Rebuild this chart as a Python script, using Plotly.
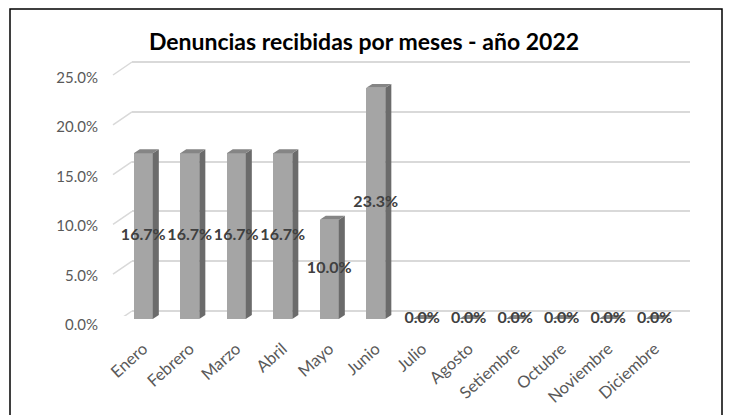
import plotly.graph_objects as go

# ---------------- data ----------------
months = ["Enero", "Febrero", "Marzo", "Abril", "Mayo", "Junio",
          "Julio", "Agosto", "Setiembre", "Octubre", "Noviembre", "Diciembre"]
shares = [0.167, 0.167, 0.167, 0.167, 0.100, 0.233, 0.0, 0.0, 0.0, 0.0, 0.0, 0.0]
y_ticks = [0.0, 0.05, 0.10, 0.15, 0.20, 0.25]
title_text = "Denuncias recibidas por meses - año 2022"

# ---------------- layout helpers ----------------
# page body has an 8px default margin; size the figure to the visible area
OFF = 8
W, H = 731 - OFF, 415 - OFF
def xd(px):
    return (px - OFF) / W
def yd(py):
    return (H - (py - OFF)) / H

FONT = "Lato"
FRONT = "#A5A5A5"
SIDE = "#6B6B6B"
TOP = "#858585"

bar_w = 0.41          # bar front width in category units
ddx = 0.13            # 3D depth (category units)
ddy = 0.004           # 3D depth (value units)

rng_bar = [0.0, 0.26]
rng_grid = [-0.005, 0.26]

s_bar, s_grid, s_lab = 992.0, 996.0, 990.0
bar0, grid0, lab0 = 319.0, 311.0, 325.0

def dom(zero_px, scale, rng):
    bottom = zero_px - rng[0] * scale
    top = zero_px - rng[1] * scale
    return [yd(bottom), yd(top)]

fig = go.Figure()

# grid subplot (drawn first -> behind bars)
fig.add_trace(go.Scatter(x=[], y=[], xaxis="x", yaxis="y", showlegend=False))

idx = list(range(len(months)))

# front faces
fig.add_trace(go.Bar(x=idx, y=shares, width=bar_w, marker=dict(color=FRONT, line=dict(width=0)),
                     xaxis="x2", yaxis="y2", showlegend=False, hoverinfo="skip"))

# side faces
sx, sy = [], []
for i, v in zip(idx, shares):
    r = i + bar_w / 2
    sx += [r, r + ddx, r + ddx, r, r, None]
    sy += [0, ddy, v + ddy, v, 0, None]
fig.add_trace(go.Scatter(x=sx, y=sy, fill="toself", fillcolor=SIDE, mode="lines",
                         line=dict(width=0, color=SIDE), xaxis="x2", yaxis="y2",
                         showlegend=False, hoverinfo="skip", cliponaxis=False))
# top faces
tx, ty = [], []
for i, v in zip(idx, shares):
    l = i - bar_w / 2
    r = i + bar_w / 2
    tx += [l, r, r + ddx, l + ddx, l, None]
    ty += [v, v, v + ddy, v + ddy, v, None]
fig.add_trace(go.Scatter(x=tx, y=ty, fill="toself", fillcolor=TOP, mode="lines",
                         line=dict(width=0, color=TOP), xaxis="x2", yaxis="y2",
                         showlegend=False, hoverinfo="skip", cliponaxis=False))

# data labels
fig.add_trace(go.Scatter(x=idx, y=[v / 2 for v in shares], mode="text",
                         text=[f"{v*100:.1f}%" for v in shares],
                         textfont=dict(family=FONT, size=16, color="#404040", weight="bold"),
                         textposition="middle center", xaxis="x2", yaxis="y2",
                         showlegend=False, hoverinfo="skip", cliponaxis=False))

# label axis
fig.add_trace(go.Scatter(x=[], y=[], xaxis="x2", yaxis="y3", showlegend=False))

# slanted floor-to-wall grid segments
slant_dy = 13.0 / s_grid
shapes = []
for v in y_ticks:
    shapes.append(dict(type="line", xref="paper", yref="y", x0=xd(113), x1=xd(132),
                       y0=v - slant_dy, y1=v, line=dict(color="#D9D9D9", width=1.5), layer="below"))
# outer border
shapes.append(dict(type="rect", xref="paper", yref="paper", x0=xd(10), x1=xd(722),
                   y0=-0.1, y1=yd(9), line=dict(color="black", width=1.5)))

fig.update_layout(
    width=W, height=H,
    margin=dict(l=0, r=0, t=0, b=0),
    paper_bgcolor="white", plot_bgcolor="rgba(0,0,0,0)",
    showlegend=False,
    bargap=0,
    title=dict(text=title_text, x=xd(364), y=yd(42), xanchor="center", yanchor="middle",
               font=dict(family=FONT, size=23, color="black", weight="bold")),
    xaxis=dict(domain=[xd(132), xd(690)], range=[0, 1], anchor="y",
               showgrid=False, zeroline=False, showticklabels=False, fixedrange=True),
    yaxis=dict(domain=dom(grid0, s_grid, rng_grid), range=rng_grid, anchor="x",
               tickvals=y_ticks, showgrid=True, gridcolor="#D9D9D9", gridwidth=1.5,
               zeroline=False, showticklabels=False, fixedrange=True),
    xaxis2=dict(domain=[xd(120), xd(678)], range=[-0.5, 11.5], anchor="y2",
                tickvals=idx, ticktext=months, tickangle=-42, showgrid=False, zeroline=False,
                showline=False, ticks="", ticklabelstandoff=16,
                tickfont=dict(family=FONT, size=16.5, color="#595959"), automargin=False),
    yaxis2=dict(domain=dom(bar0, s_bar, rng_bar), range=rng_bar, anchor="x2",
                visible=False, fixedrange=True),
    yaxis3=dict(domain=dom(lab0, s_lab, rng_grid), range=rng_grid, anchor="free",
                position=xd(98), side="left", tickvals=y_ticks,
                ticktext=[f"{v*100:.1f}%" for v in y_ticks], showgrid=False, zeroline=False,
                showline=False, ticks="", tickfont=dict(family=FONT, size=15, color="#595959"),
                automargin=False),
    shapes=shapes,
)

fig.write_html("out.html")
